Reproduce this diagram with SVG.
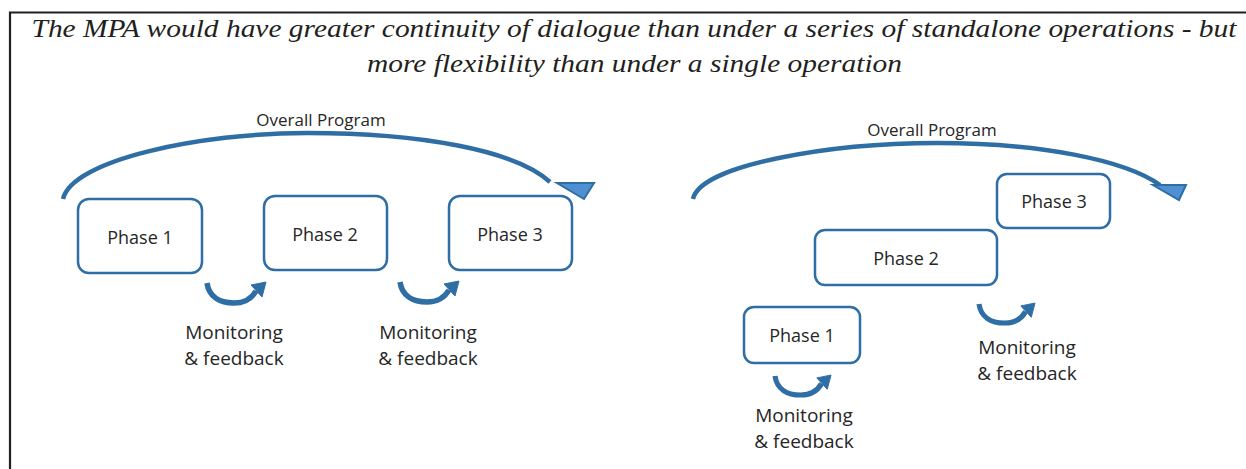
<svg xmlns="http://www.w3.org/2000/svg" width="1246" height="469" viewBox="0 0 1246 469">
<style>
.frame{fill:none;stroke:#231f20;stroke-width:2.2}
.title{font-family:"Liberation Serif","Times New Roman",serif;font-style:italic;font-size:25px;fill:#231f20;text-anchor:middle}
.lbl{font-family:"Open Sans","Liberation Sans",sans-serif;fill:#262626;text-anchor:middle}
.box{fill:#fff;stroke:#2f6ea5;stroke-width:2.5}
.arc{fill:none;stroke:#2f6ea5;stroke-width:4.5;stroke-linecap:butt}
.head{fill:#4f90d2;stroke:#2f6ea5;stroke-width:2;stroke-linejoin:miter}
.sarc{fill:none;stroke:#2f6ea5;stroke-width:5.5}
.shead{fill:#2f6ea5;stroke:#2f6ea5;stroke-width:1}
</style>
<defs>
<g id="loop">
<path class="sarc" d="M0,0 C2,14 13,20 27,20 C38,20 45,15 49,8"/>
<polygon class="shead" points="59,-1 44,2 55,14"/>
</g>
</defs>
<rect width="1246" height="469" fill="#fff"/>
<path class="frame" d="M10,469 V12.5 H1246"/>
<text class="title" x="634" y="37" textLength="1205" lengthAdjust="spacingAndGlyphs">The MPA would have greater continuity of dialogue than under a series of standalone operations - but</text>
<text class="title" x="634.5" y="72" textLength="535" lengthAdjust="spacingAndGlyphs">more flexibility than under a single operation</text>

<g id="connectors">
<path class="arc" d="M63,199 C72,160 200,133 307,133 C420,133 515,150 550,182"/>
<polygon class="head" points="557,183 594,183 584,199"/>
<path class="arc" d="M693,199 C700,165 830,143 937,143 C1040,143 1125,160 1160,185"/>
<polygon class="head" points="1153,185 1186,185 1179,200"/>
<use href="#loop" x="207" y="283"/>
<use href="#loop" x="400" y="282"/>
<use href="#loop" transform="translate(775,376) scale(0.95)"/>
<use href="#loop" transform="translate(979,304) scale(0.95)"/>
</g>

<g id="overall-left"><text class="lbl" x="321" y="126" font-size="17">Overall Program</text></g>
<g id="overall-right"><text class="lbl" x="932" y="136" font-size="17">Overall Program</text></g>

<g id="l-phase1"><rect class="box" x="78" y="199" width="124" height="74" rx="11"/><text class="lbl" x="140" y="244" font-size="18">Phase 1</text></g>
<g id="l-phase2"><rect class="box" x="264" y="196" width="123" height="74" rx="11"/><text class="lbl" x="325" y="241" font-size="18">Phase 2</text></g>
<g id="l-phase3"><rect class="box" x="449" y="196" width="123" height="74" rx="11"/><text class="lbl" x="510" y="241" font-size="18">Phase 3</text></g>

<g id="r-phase3"><rect class="box" x="997" y="174" width="113" height="54" rx="10"/><text class="lbl" x="1054" y="208" font-size="18">Phase 3</text></g>
<g id="r-phase2"><rect class="box" x="815" y="230" width="182" height="55" rx="10"/><text class="lbl" x="906" y="265" font-size="18">Phase 2</text></g>
<g id="r-phase1"><rect class="box" x="744" y="307" width="116" height="56" rx="10"/><text class="lbl" x="802" y="342" font-size="18">Phase 1</text></g>

<g id="mf1"><text class="lbl" x="234" y="339" font-size="19">Monitoring</text><text class="lbl" x="234" y="365" font-size="19">&amp; feedback</text></g>
<g id="mf2"><text class="lbl" x="428" y="339" font-size="19">Monitoring</text><text class="lbl" x="428" y="365" font-size="19">&amp; feedback</text></g>
<g id="mf3"><text class="lbl" x="804" y="422" font-size="19">Monitoring</text><text class="lbl" x="804" y="448" font-size="19">&amp; feedback</text></g>
<g id="mf4"><text class="lbl" x="1027" y="354" font-size="19">Monitoring</text><text class="lbl" x="1027" y="380" font-size="19">&amp; feedback</text></g>
</svg>
